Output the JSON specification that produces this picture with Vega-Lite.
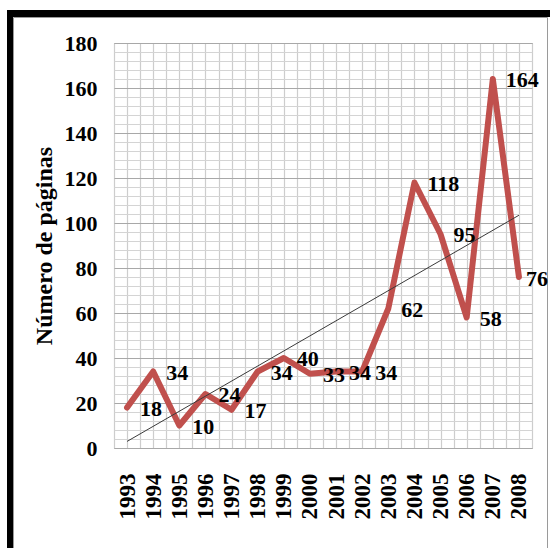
{
  "$schema": "https://vega.github.io/schema/vega-lite/v6.json",
  "width": 418,
  "height": 405,
  "autosize": {"type": "none"},
  "padding": {"left": 114, "top": 43, "right": 18, "bottom": 100},
  "background": "white",
  "config": {
    "view": {"stroke": "#a0a0a0", "strokeWidth": 1},
    "font": "Liberation Serif"
  },
  "data": {
    "values": [
      {"year": 1993, "pages": 18},
      {"year": 1994, "pages": 34},
      {"year": 1995, "pages": 10},
      {"year": 1996, "pages": 24},
      {"year": 1997, "pages": 17},
      {"year": 1998, "pages": 34},
      {"year": 1999, "pages": 40},
      {"year": 2000, "pages": 33},
      {"year": 2001, "pages": 34},
      {"year": 2002, "pages": 34},
      {"year": 2003, "pages": 62},
      {"year": 2004, "pages": 118},
      {"year": 2005, "pages": 95},
      {"year": 2006, "pages": 58},
      {"year": 2007, "pages": 164},
      {"year": 2008, "pages": 76}
    ]
  },
  "encoding": {
    "x": {
      "field": "year",
      "type": "quantitative",
      "scale": {"domain": [1992.5, 2008.5], "nice": false, "zero": false},
      "axis": {
        "values": [1992.5, 1993, 1993.5, 1994, 1994.5, 1995, 1995.5, 1996, 1996.5, 1997, 1997.5, 1998, 1998.5, 1999, 1999.5, 2000, 2000.5, 2001, 2001.5, 2002, 2002.5, 2003, 2003.5, 2004, 2004.5, 2005, 2005.5, 2006, 2006.5, 2007, 2007.5, 2008, 2008.5],
        "labelExpr": "datum.value % 1 === 0 ? toString(datum.value) : ''",
        "labelAngle": -90,
        "labelAlign": "right",
        "labelBaseline": "middle",
        "labelFont": "Liberation Serif",
        "labelFontWeight": "bold",
        "labelFontSize": 23,
        "labelColor": "black",
        "labelPadding": 25,
        "labelOverlap": false,
        "labelBound": false,
        "labelFlush": false,
        "ticks": false,
        "domain": false,
        "gridColor": "#cdcdcd",
        "gridWidth": 1.2,
        "title": null
      }
    },
    "y": {
      "field": "pages",
      "type": "quantitative",
      "scale": {"domain": [0, 180], "nice": false},
      "axis": {
        "values": [0, 4, 8, 12, 16, 20, 24, 28, 32, 36, 40, 44, 48, 52, 56, 60, 64, 68, 72, 76, 80, 84, 88, 92, 96, 100, 104, 108, 112, 116, 120, 124, 128, 132, 136, 140, 144, 148, 152, 156, 160, 164, 168, 172, 176, 180],
        "labelExpr": "datum.value % 20 ? '' : datum.label",
        "labelFont": "Liberation Serif",
        "labelFontWeight": "bold",
        "labelFontSize": 22,
        "labelColor": "black",
        "labelPadding": 17,
        "labelOverlap": false,
        "labelBound": false,
        "labelFlush": false,
        "ticks": false,
        "domain": false,
        "gridColor": {"condition": {"test": "datum.value % 20 === 0", "value": "#a8a8a8"}, "value": "#d4d4d4"},
        "gridWidth": 1.2,
        "title": "Número de páginas",
        "titleFont": "Liberation Serif",
        "titleFontSize": 24,
        "titleFontWeight": "bold",
        "titleColor": "black",
        "titlePadding": 8
      }
    }
  },
  "layer": [
    {
      "data": {"values": [{}]},
      "mark": {"type": "rect", "fill": "black"},
      "encoding": {"x": {"value": -107}, "x2": {"value": 436}, "y": {"value": -33}, "y2": {"value": -26}}
    },
    {
      "data": {"values": [{}]},
      "mark": {"type": "rect", "fill": "black"},
      "encoding": {"x": {"value": -107}, "x2": {"value": -101}, "y": {"value": -33}, "y2": {"value": 520}}
    },
    {
      "data": {"values": [{}]},
      "mark": {"type": "rect", "fill": null, "stroke": "#9a9a9a", "strokeWidth": 1},
      "encoding": {"x": {"value": -100.5}, "x2": {"value": 433.5}, "y": {"value": -25.5}, "y2": {"value": 520}}
    },
    {
      "mark": {"type": "line", "color": "#c0504d", "strokeWidth": 6, "strokeJoin": "round", "strokeCap": "round"}
    },
    {
      "transform": [{"regression": "pages", "on": "year", "extent": [1993, 2008]}],
      "mark": {"type": "line", "color": "#3a3a3a", "strokeWidth": 1}
    },
    {
      "transform": [{"filter": "datum.year < 2008"}],
      "mark": {"type": "text", "align": "left", "baseline": "middle", "dx": 13, "dy": 1, "font": "Liberation Serif", "fontWeight": "bold", "fontSize": 22, "color": "black"},
      "encoding": {"text": {"field": "pages"}}
    },
    {
      "transform": [{"filter": "datum.year == 2008"}],
      "mark": {"type": "text", "align": "left", "baseline": "middle", "dx": 7, "dy": 2, "font": "Liberation Serif", "fontWeight": "bold", "fontSize": 22, "color": "black"},
      "encoding": {"text": {"field": "pages"}}
    }
  ]
}
